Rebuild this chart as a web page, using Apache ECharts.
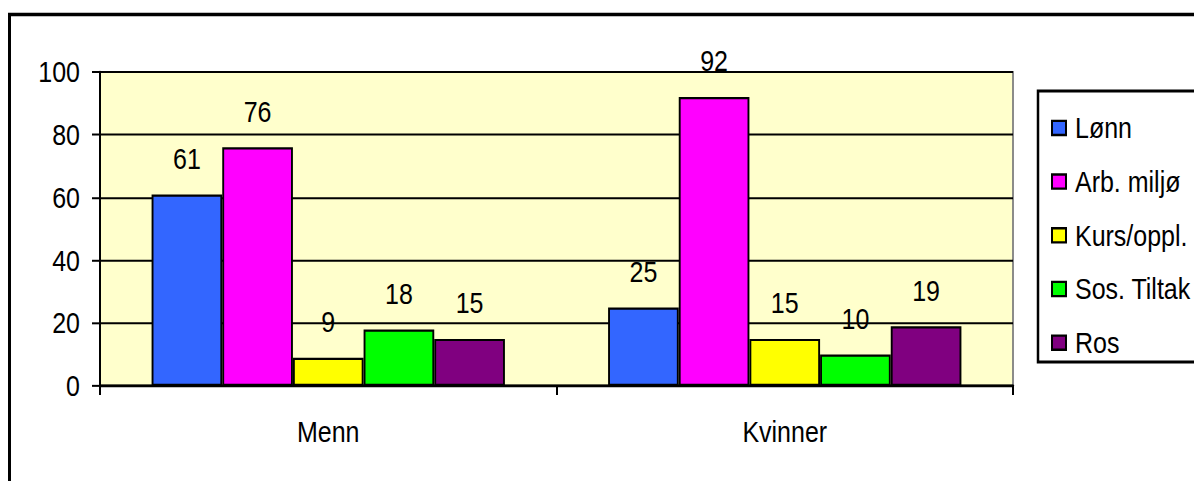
<!DOCTYPE html>
<html>
<head>
<meta charset="utf-8">
<script src="https://cdn.jsdelivr.net/npm/echarts@6/dist/echarts.min.js"></script>
<style>
  html, body { margin: 0; padding: 0; background: #ffffff; }
  #page { position: relative; width: 1194px; height: 481px; overflow: hidden; }
  /* Text in this chart is set in a tall, narrow face: the chart is laid out
     in a shorter box and stretched vertically to the full page height. */
  #chart { position: absolute; left: 0; top: 0; width: 1194px; height: 407.6px;
           transform: scaleY(1.18); transform-origin: 0 0; }
</style>
</head>
<body>
<div id="page"><div id="chart"></div></div>
<script>
// Groups along the x axis
const categories = ['Menn', 'Kvinner'];

// One array per answer category, values for [Menn, Kvinner]
const lonn = [61, 25];
const arbMiljo = [76, 92];
const kursOppl = [9, 15];
const sosTiltak = [18, 10];
const ros = [15, 19];

const seriesNames = ['Lønn', 'Arb. miljø', 'Kurs/oppl.', 'Sos. Tiltak', 'Ros'];
const seriesValues = [lonn, arbMiljo, kursOppl, sosTiltak, ros];
const seriesColors = ['#3366FF', '#FF00FF', '#FFFF00', '#00FF00', '#800080'];

// Y axis range and step
const yMin = 0;
const yMax = 100;
const yStep = 20;

const FONT = '"Liberation Sans", Arial, sans-serif';
const FS = 25;
const HLINE = 1.7;   // horizontal rules (stretched by the page transform)

const chart = echarts.init(document.getElementById('chart'), null, { renderer: 'svg' });

const series = seriesNames.map((name, i) => ({
  name: name,
  type: 'bar',
  data: seriesValues[i],
  barGap: '0%',
  barCategoryGap: '22.6%',
  itemStyle: { color: seriesColors[i], borderColor: '#000000', borderWidth: 1.9 },
  label: {
    show: true,
    position: 'top',
    distance: 18,
    color: '#000000',
    fontFamily: FONT,
    fontSize: FS
  },
  emphasis: { disabled: true },
  animation: false
}));

chart.setOption({
  animation: false,
  backgroundColor: '#ffffff',
  textStyle: { fontFamily: FONT },
  grid: {
    left: 100,
    right: 181,
    top: 61,
    bottom: 80.9,
    show: true,
    backgroundColor: '#FFFFCC',
    borderColor: '#808080',
    borderWidth: 1.8
  },
  legend: {
    orient: 'vertical',
    left: 1046,
    top: 90.9,
    itemWidth: 14,
    itemHeight: 12,
    itemGap: 20.5,
    icon: 'rect',
    selectedMode: false,
    textStyle: {
      color: '#000000',
      fontFamily: FONT,
      fontSize: FS,
      lineHeight: 25,
      padding: [0, 0, 0, 4]
    },
    data: seriesNames
  },
  xAxis: {
    type: 'category',
    data: categories,
    axisLine: { show: true, lineStyle: { color: '#000000', width: 2.4 } },
    axisTick: { show: true, length: 7.6, lineStyle: { color: '#000000', width: 2 } },
    axisLabel: { color: '#000000', fontFamily: FONT, fontSize: FS, margin: 26 },
    splitLine: { show: false }
  },
  yAxis: {
    type: 'value',
    min: yMin,
    max: yMax,
    interval: yStep,
    axisLine: { show: true, lineStyle: { color: '#000000', width: 2 } },
    axisTick: { show: true, length: 8, lineStyle: { color: '#000000', width: HLINE } },
    axisLabel: { color: '#000000', fontFamily: FONT, fontSize: FS, margin: 20 },
    splitLine: { show: true, lineStyle: { color: '#000000', width: HLINE } }
  },
  graphic: [
    {
      // outer chart frame
      type: 'rect',
      z: 100,
      silent: true,
      shape: { x: 9.5, y: 12.3, width: 1220, height: 440 },
      style: { fill: null, stroke: '#000000', lineWidth: 3 }
    },
    {
      // legend frame
      type: 'rect',
      z: 100,
      silent: true,
      shape: { x: 1038, y: 77.1, width: 200, height: 229.7 },
      style: { fill: null, stroke: '#000000', lineWidth: 2.5 }
    }
  ],
  series: series
});
</script>
</body>
</html>
